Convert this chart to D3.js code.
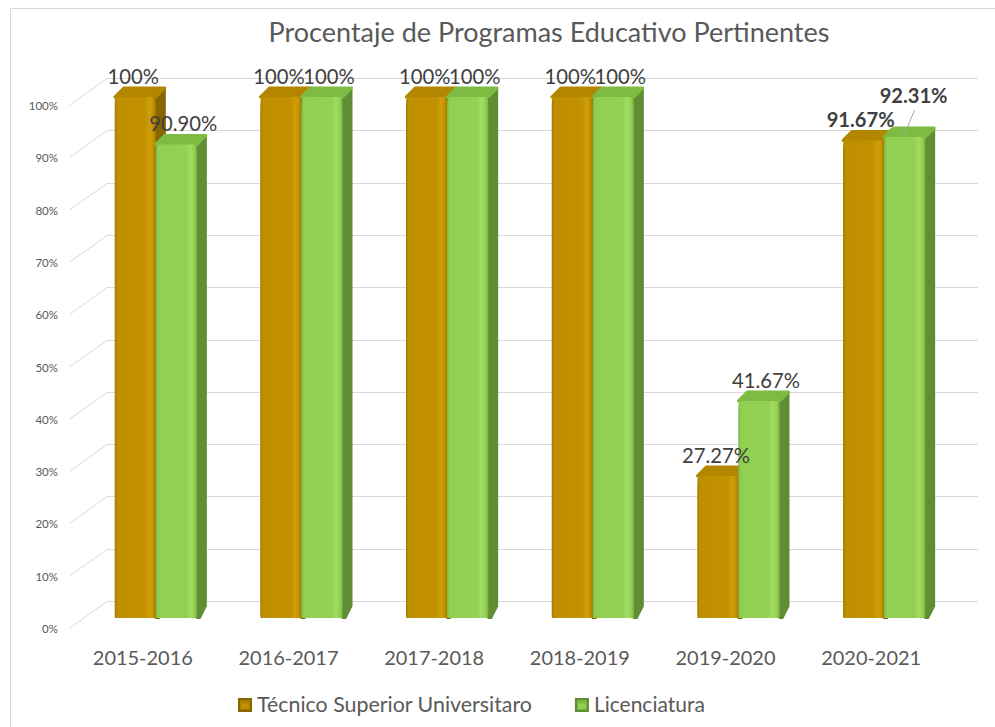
<!DOCTYPE html>
<html lang="es">
<head>
<meta charset="UTF-8">
<title>Procentaje de Programas Educativo Pertinentes</title>
<script src="https://d3js.org/d3.v7.min.js"></script>
<style>
  body { margin: 0; background: #fff; font-family: Lato, "Open Sans", sans-serif; }
  svg { display: block; }
  .grid { stroke: #d9d9d9; stroke-width: 1; fill: none; }
  .tick-label { font-size: 11.5px; fill: #595959; }
  .cat-label { fill: #595959; }
  .value-label { fill: #404040; }
  .legend-label { fill: #595959; }
  .title { fill: #595959; }
</style>
</head>
<body>
<svg width="995" height="727"></svg>
<script>
// data
const categories = ["2015-2016", "2016-2017", "2017-2018", "2018-2019", "2019-2020", "2020-2021"];
const seriesNames = ["Técnico Superior Universitaro", "Licenciatura"];
const tsuValues = [1.00, 1.00, 1.00, 1.00, 0.2727, 0.9167];
const licValues = [0.909, 1.00, 1.00, 1.00, 0.4167, 0.9231];
const tsuLabels = ["100%", "100%", "100%", "100%", "27.27%", "91.67%"];
const licLabels = ["90.90%", "100%", "100%", "100%", "41.67%", "92.31%"];
const yTicks = [0, 0.1, 0.2, 0.3, 0.4, 0.5, 0.6, 0.7, 0.8, 0.9, 1.0];

const svg = d3.select("svg");

// chart border (runs off the right/bottom of the picture)
svg.append("path")
    .attr("d", "M10.5,1000 V8.5 H1000")
    .attr("fill", "none")
    .attr("stroke", "#d9d9d9");

// scales
const x = d3.scaleBand().domain(categories).range([83, 957]).paddingInner(0.437).paddingOuter(0.2185);
const xs = d3.scaleBand().domain(["tsu", "lic"]).range([0, x.bandwidth()]);
const yBar = d3.scaleLinear().domain([0, 1]).range([618, 97]);   // bar front faces
const yWall = d3.scaleLinear().domain([0, 1]).range([601, 78]);  // back wall
const ySide = d3.scaleLinear().domain([0, 1]).range([628, 105]); // front edge of side wall
const depth = { dx: 9, dy: -9 };

// gradients for the bar front faces
const defs = svg.append("defs");
function addGrad(id, stops) {
    const g = defs.append("linearGradient").attr("id", id).attr("x1", "0").attr("x2", "1").attr("y1", "0").attr("y2", "0");
    stops.forEach(s => g.append("stop").attr("offset", s[0]).attr("stop-color", s[1]));
}
addGrad("gOrange", [[0, "#a57c00"], [0.06, "#bf8f00"], [0.74, "#c29100"], [0.84, "#cf9e0c"], [0.93, "#c69400"], [1, "#a07800"]]);
addGrad("gGreen", [[0, "#80ba46"], [0.06, "#91cf50"], [0.74, "#94d153"], [0.84, "#a2dd63"], [0.93, "#94d153"], [1, "#7bb243"]]);

const colors = {
    tsu: { front: "url(#gOrange)", top: "#b38600", side: "#876600", base: "#c09000" },
    lic: { front: "url(#gGreen)", top: "#7dbb43", side: "#5f8e34", base: "#92d050" }
};

// back wall grid lines + side wall diagonals
const grid = svg.append("g");
grid.selectAll("line.wall")
    .data(yTicks)
    .enter().append("line")
    .attr("class", "grid")
    .attr("x1", 107).attr("x2", 978)
    .attr("y1", d => Math.round(yWall(d)) + 0.5)
    .attr("y2", d => Math.round(yWall(d)) + 0.5);

grid.selectAll("line.diag")
    .data(yTicks)
    .enter().append("line")
    .attr("class", "grid")
    .attr("x1", 70).attr("y1", d => ySide(d))
    .attr("x2", 107).attr("y2", d => Math.round(yWall(d)) + 0.5);

svg.selectAll("text.tick-label")
    .data(yTicks)
    .enter().append("text")
    .attr("class", "tick-label")
    .attr("x", 58)
    .attr("y", d => ySide(d) + 5)
    .attr("text-anchor", "end")
    .text(d => Math.round(d * 100) + "%");

// bars
const rows = categories.map((c, i) => ({
    cat: c,
    bars: [
        { key: "tsu", value: tsuValues[i], label: tsuLabels[i] },
        { key: "lic", value: licValues[i], label: licLabels[i] }
    ]
}));

const groups = svg.append("g").selectAll("g")
    .data(rows)
    .enter().append("g")
    .attr("transform", d => `translate(${x(d.cat)},0)`);

groups.each(function(row) {
    const g = d3.select(this);
    row.bars.forEach(b => {
        const x0 = xs(b.key), w = xs.bandwidth();
        const yt = yBar(b.value), yb = yBar(0);
        const c = colors[b.key];
        // side face
        g.append("path")
            .attr("d", `M${x0 + w},${yt} L${x0 + w + depth.dx},${yt + depth.dy} L${x0 + w + depth.dx},${yb + depth.dy - 3} L${x0 + w + 3},${yb} L${x0 + w},${yb} Z`)
            .attr("fill", c.side)
            .attr("stroke", c.side)
            .attr("stroke-linejoin", "round")
            .attr("stroke-width", 2);
        // top face
        g.append("path")
            .attr("d", `M${x0},${yt} L${x0 + depth.dx},${yt + depth.dy} L${x0 + w + depth.dx},${yt + depth.dy} L${x0 + w},${yt} Z`)
            .attr("fill", c.top)
            .attr("stroke", c.top)
            .attr("stroke-linejoin", "round")
            .attr("stroke-width", 3);
        // front face
        g.append("rect")
            .attr("x", x0).attr("y", yt)
            .attr("width", w).attr("height", yb - yt)
            .attr("rx", 4)
            .attr("fill", c.front);
        g.append("rect")
            .attr("x", x0).attr("y", yt + 8)
            .attr("width", w).attr("height", yb - yt - 8)
            .attr("fill", c.front);
    });
});

// value labels
const labelSize = 20;
const lastCat = categories[categories.length - 1];
groups.each(function(row) {
    const g = d3.select(this);
    const isLast = row.cat === lastCat;
    row.bars.forEach(b => {
        const cx = xs(b.key) + xs.bandwidth() / 2;
        const yt = yBar(b.value);
        let lx = cx + (b.key === "tsu" ? -2 : 7);
        let ly = yt - 13;
        if (isLast && b.key === "lic") {
            lx = cx + 9;
            ly = yt - 34;
            g.append("line")
                .attr("x1", lx + 1).attr("y1", ly + 7)
                .attr("x2", cx - 1).attr("y2", yt - 1)
                .attr("stroke", "#a6a6a6").attr("stroke-width", 1);
        } else if (isLast) {
            lx = cx - 3;
        }
        g.append("text")
            .attr("class", "value-label")
            .attr("x", lx).attr("y", ly)
            .attr("text-anchor", "middle")
            .style("font-size", labelSize + "px")
            .style("font-weight", isLast ? "bold" : "normal")
            .text(b.label);
    });
});

// category labels
const catLabels = svg.selectAll("text.cat-label")
    .data(categories)
    .enter().append("text")
    .attr("class", "cat-label")
    .attr("x", d => x(d) + x.bandwidth() / 2 - 13)
    .attr("y", 665)
    .attr("text-anchor", "middle")
    .style("font-size", "21px")
    .text(d => d);

// title
const title = svg.append("text")
    .attr("class", "title")
    .attr("x", 549).attr("y", 42)
    .attr("text-anchor", "middle")
    .style("font-size", "26px")
    .text("Procentaje de Programas Educativo Pertinentes");

// scale a font so a sample string has the width measured on the reference
function fit(sel, sampleNode, target) {
    const fs = parseFloat(d3.select(sampleNode).style("font-size"));
    const size = fs * target / sampleNode.getComputedTextLength();
    sel.style("font-size", size.toFixed(2) + "px");
}
fit(title, title.node(), 561);
fit(catLabels, catLabels.node(), 100);
const vl = svg.selectAll("text.value-label");
const plain = vl.filter(function() { return this.style.fontWeight !== "bold"; });
const bold = vl.filter(function() { return this.style.fontWeight === "bold"; });
fit(plain, plain.filter(function() { return this.textContent === "27.27%"; }).node(), 68);
fit(bold, bold.node(), 68);

// legend
const legend = svg.append("g");
let lxPos = 238;
seriesNames.forEach((name, i) => {
    const c = colors[i === 0 ? "tsu" : "lic"];
    const item = legend.append("g").attr("transform", `translate(${lxPos},698)`);
    item.append("rect").attr("width", 14).attr("height", 14).attr("fill", c.side);
    item.append("rect").attr("x", 2.5).attr("y", 2.5).attr("width", 9).attr("height", 9).attr("fill", c.base);
    item.append("rect").attr("x", 2.5).attr("y", 2.5).attr("width", 9).attr("height", 3).attr("fill", c.top);
    const t = item.append("text")
        .attr("class", "legend-label")
        .attr("x", 19).attr("y", 14)
        .style("font-size", "21px")
        .text(name);
    if (i === 0) fit(legend.selectAll("text"), t.node(), 275);
    lxPos += 19 + t.node().getComputedTextLength() + 43;
});
</script>
</body>
</html>
